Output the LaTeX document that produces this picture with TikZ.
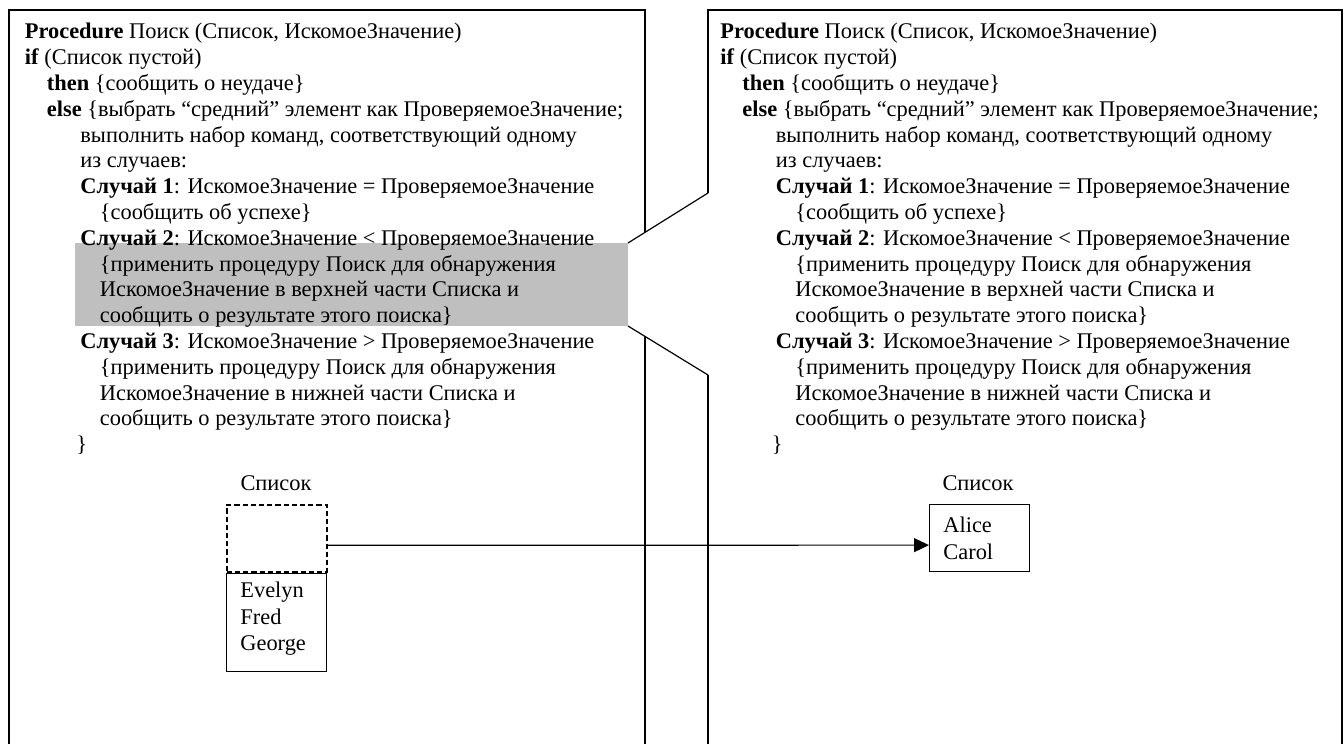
\documentclass[tikz,border=0pt]{standalone}
\usepackage{fontspec}
\setmainfont{Liberation Serif}
\usepackage{tikz}
\usetikzlibrary{arrows.meta}
\tikzset{panel/.style={draw, semithick},
  code/.style={anchor=north west, inner sep=0pt, align=left,
    font=\fontsize{11.2}{12.9}\selectfont},
  listbox/.style={draw, semithick, minimum width=50pt, minimum height=33.5pt,
    inner sep=0pt},
  listlab/.style={inner sep=0pt, font=\fontsize{11.2}{13.2}\selectfont}}

% body of the procedure, used in both panels
\newcommand{\procbody}{%
\textbf{Procedure} Поиск (Список, ИскомоеЗначение)\\
\textbf{if} (Список пустой)\\
\hspace*{11pt}\textbf{then} \{сообщить о неудаче\}\\
\hspace*{11pt}\textbf{else} \{выбрать “средний” элемент как ПроверяемоеЗначение;\\
\hspace*{27.75pt}выполнить набор команд, соответствующий одному\\
\hspace*{27.75pt}из случаев:\\
\hspace*{27.75pt}\textbf{Случай 1}: ИскомоеЗначение = ПроверяемоеЗначение\\
\hspace*{37.5pt}\{сообщить об успехе\}\\
\hspace*{27.75pt}\textbf{Случай 2}: ИскомоеЗначение < ПроверяемоеЗначение\\
\hspace*{37.5pt}\{применить процедуру Поиск для обнаружения\\
\hspace*{37.5pt}ИскомоеЗначение в верхней части Списка и\\
\hspace*{37.5pt}сообщить о результате этого поиска\}\\
\hspace*{27.75pt}\textbf{Случай 3}: ИскомоеЗначение > ПроверяемоеЗначение\\
\hspace*{37.5pt}\{применить процедуру Поиск для обнаружения\\
\hspace*{37.5pt}ИскомоеЗначение в нижней части Списка и\\
\hspace*{37.5pt}сообщить о результате этого поиска\}\\
\hspace*{25.75pt}\}}

\begin{document}
\begin{tikzpicture}[x=0.5pt,y=-0.5pt]
  \useasboundingbox (0,0) rectangle (1344,744);

  % highlighted case in the left panel
  \fill[gray!50] (75,243) rectangle (628,326);

  % left panel, cut where the zoom lines pass
  \coordinate (ltl) at (9,10);
  \coordinate (ltr) at (645,10);
  \draw[panel] (9,744) -- (ltl) -- (ltr) -- (645,232);
  \draw[panel] (645,337) -- (645,744);

  % right panel
  \coordinate (rtl) at (708,10);
  \coordinate (rtr) at (1342,10);
  \draw[panel] (708,193) -- (rtl) -- (rtr) -- (1342,744);
  \draw[panel] (708,375) -- (708,744);

  % zoom lines
  \draw[panel] (628,243) -- (708,193);
  \draw[panel] (628,326) -- (708,375);

  \node[code] (lcode) at (24.5,23) {\procbody};
  \node[code] (rcode) at (720,23) {\procbody};

  % lists
  \node[listlab] (llab) at (276,483) {Список};
  \node[listbox, thick, dash pattern={on 2.6pt off 1.5pt}, anchor=north west]
    (ltop) at (226,504) {};
  \node[listbox, anchor=north west, minimum height=49pt] (lbot) at (ltop.south west) {};
  \node[listlab, anchor=north west, align=left] (lnames) at (240,582)
    {Evelyn\\Fred\\George};

  \node[listlab] (rlab) at (978,483) {Список};
  \node[listbox, anchor=north west] (rbox) at (929,504) {};
  \node[listlab, anchor=north west, align=left] (rnames) at (943,517)
    {Alice\\Carol};

  \draw[semithick, -{Triangle[length=7.5pt,width=7pt]}]
    ([yshift=-3.5pt]ltop.east) -- ([yshift=-3.5pt]rbox.west);
\end{tikzpicture}
\end{document}
